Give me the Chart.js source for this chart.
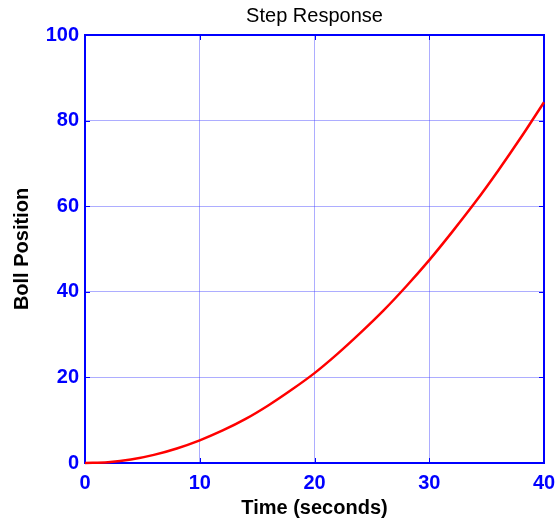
<!DOCTYPE html>
<html>
<head>
<meta charset="utf-8">
<script src="https://cdn.jsdelivr.net/npm/chart.js@4.4.1/dist/chart.umd.min.js"></script>
<style>
  html, body { margin: 0; padding: 0; background: #ffffff; }
  #wrap { width: 559px; height: 520px; }
</style>
</head>
<body>
<div id="wrap"><canvas id="c" width="559" height="520"></canvas></div>
<script>
// Time samples (seconds) and ball position
const timeSec = [0, 2, 4, 6, 8, 10, 12, 14, 16, 18, 20, 22, 24, 26, 28, 30, 32, 34, 36, 38, 40];
const position = [0, 0.2, 0.8, 1.9, 3.4, 5.3, 7.6, 10.3, 13.5, 17.1, 21.0, 25.5, 30.4, 35.6, 41.3, 47.4, 54.0, 60.9, 68.3, 76.1, 84.3];

// Axis tick values
const xTicks = [0, 10, 20, 30, 40];
const yTicks = [0, 20, 40, 60, 80, 100];

const TITLE = 'Step Response';
const BLUE = '#0000ff';
const FONT = 'Liberation Sans, Arial, sans-serif';
const points = timeSec.map((t, i) => ({ x: t, y: position[i] }));

// Frame around the plot area with inward tick marks on all four sides,
// plus the title centred over the plot area
const framePlugin = {
  id: 'frame',
  beforeDatasetsDraw(chart) {
    const { ctx, chartArea: a, scales } = chart;
    ctx.save();
    ctx.strokeStyle = BLUE;
    ctx.lineWidth = 1;
    const len = 5;
    ctx.beginPath();
    xTicks.forEach(v => {
      const px = Math.round(scales.x.getPixelForValue(v)) + 0.5;
      ctx.moveTo(px, a.bottom); ctx.lineTo(px, a.bottom - len);
      ctx.moveTo(px, a.top); ctx.lineTo(px, a.top + len);
    });
    yTicks.forEach(v => {
      const py = Math.round(scales.y.getPixelForValue(v)) + 0.5;
      ctx.moveTo(a.left, py); ctx.lineTo(a.left + len, py);
      ctx.moveTo(a.right, py); ctx.lineTo(a.right - len, py);
    });
    ctx.stroke();
    ctx.lineWidth = 2;
    ctx.strokeRect(a.left, a.top, a.right - a.left, a.bottom - a.top);

    ctx.fillStyle = '#000000';
    ctx.font = 'normal 20px ' + FONT;
    ctx.textAlign = 'center';
    ctx.textBaseline = 'middle';
    ctx.fillText(TITLE, (a.left + a.right) / 2, 16);
    ctx.restore();
  }
};

new Chart(document.getElementById('c'), {
  type: 'scatter',
  data: {
    datasets: [{
      data: points,
      showLine: true,
      borderColor: '#ff0000',
      borderWidth: 2.5,
      pointRadius: 0,
      cubicInterpolationMode: 'monotone',
      clip: 6
    }]
  },
  options: {
    responsive: false,
    animation: false,
    layout: { padding: { left: 0, right: 15, top: 35, bottom: 0 } },
    plugins: {
      legend: { display: false },
      tooltip: { enabled: false },
      title: { display: false }
    },
    scales: {
      x: {
        type: 'linear',
        min: 0,
        max: 40,
        afterBuildTicks: s => { s.ticks = xTicks.map(v => ({ value: v })); },
        afterFit: s => { s.height = 57; s.paddingLeft = 0; s.paddingRight = 0; },
        grid: { color: 'rgba(60,60,255,0.42)', lineWidth: 1, drawTicks: false },
        border: { display: false },
        ticks: {
          color: BLUE,
          padding: 8,
          maxRotation: 0,
          font: { family: FONT, size: 20, weight: 'bold' }
        },
        title: {
          display: true,
          text: 'Time (seconds)',
          color: '#000000',
          font: { family: FONT, size: 20, weight: 'bold', lineHeight: 1.2 },
          padding: { top: 0, bottom: 0 }
        }
      },
      y: {
        type: 'linear',
        min: 0,
        max: 100,
        afterBuildTicks: s => { s.ticks = yTicks.map(v => ({ value: v })); },
        afterFit: s => { s.width = 85; s.paddingTop = 0; s.paddingBottom = 0; },
        grid: { color: 'rgba(60,60,255,0.42)', lineWidth: 1, drawTicks: false },
        border: { display: false },
        ticks: {
          color: BLUE,
          padding: 6,
          font: { family: FONT, size: 20, weight: 'bold' }
        },
        title: {
          display: true,
          text: 'Boll Position',
          color: '#000000',
          font: { family: FONT, size: 20, weight: 'bold', lineHeight: 1.2 },
          padding: { top: 10, bottom: 0 }
        }
      }
    }
  },
  plugins: [framePlugin]
});
</script>
</body>
</html>
